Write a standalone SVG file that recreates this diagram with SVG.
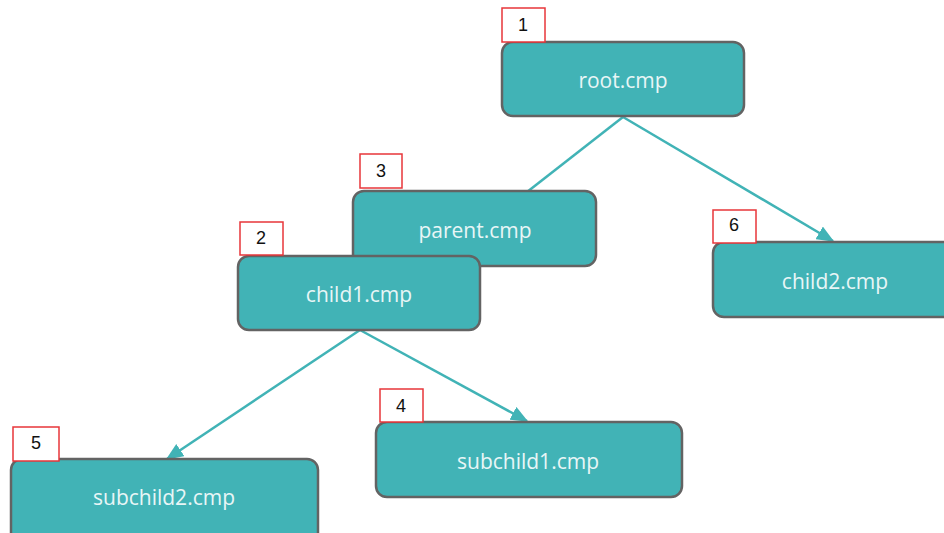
<svg xmlns="http://www.w3.org/2000/svg" width="944" height="533" viewBox="0 0 944 533">
<style>
.node{fill:#41b3b6;stroke:#636363;stroke-width:2.5}
.lbl{fill:#fff;stroke:#e8363a;stroke-width:1.5}
.t{font-family:"Open Sans","Noto Sans",sans-serif;font-size:21px;fill:#e8f6f6;text-anchor:middle;dominant-baseline:central}
.n{font-family:"Liberation Sans",Arial,sans-serif;font-size:18px;fill:#111;text-anchor:middle;dominant-baseline:central}
.c{stroke:#41b3b6;stroke-width:2.5;fill:none}
</style>
<defs>
<marker id="ah" viewBox="0 0 12 10" refX="11" refY="5" markerWidth="7" markerHeight="6" markerUnits="strokeWidth" orient="auto">
<path d="M0,0 L12,5 L0,10 z" fill="#41b3b6"/>
</marker>
</defs>
<rect width="944" height="533" fill="#fff"/>
<g id="connectors">
<line class="c" x1="623" y1="117" x2="527" y2="192"/>
<line class="c" x1="623" y1="117" x2="833" y2="241" marker-end="url(#ah)"/>
<line class="c" x1="360" y1="330" x2="167" y2="459" marker-end="url(#ah)"/>
<line class="c" x1="360" y1="330" x2="527" y2="421" marker-end="url(#ah)"/>
</g>
<g id="root">
<rect class="node" x="502" y="42" width="242" height="74" rx="11"/>
<text class="t" x="623" y="80">root.cmp</text>
<rect class="lbl" x="502" y="8" width="43" height="34"/>
<text class="n" x="523" y="25">1</text>
</g>
<g id="parent">
<rect class="node" x="353" y="191" width="243" height="75" rx="11"/>
<text class="t" x="475" y="230">parent.cmp</text>
<rect class="lbl" x="360" y="154" width="42" height="34"/>
<text class="n" x="381" y="171">3</text>
</g>
<g id="child1">
<rect class="node" x="238" y="256" width="242" height="74" rx="11"/>
<text class="t" x="359" y="294">child1.cmp</text>
<rect class="lbl" x="240" y="222" width="43" height="33"/>
<text class="n" x="261" y="238">2</text>
</g>
<g id="child2">
<rect class="node" x="713" y="242" width="250" height="75" rx="11"/>
<text class="t" x="835" y="281">child2.cmp</text>
<rect class="lbl" x="713" y="210" width="43" height="33"/>
<text class="n" x="734" y="225">6</text>
</g>
<g id="subchild1">
<rect class="node" x="376" y="422" width="306" height="75" rx="11"/>
<text class="t" x="528" y="461">subchild1.cmp</text>
<rect class="lbl" x="380" y="389" width="43" height="33"/>
<text class="n" x="401" y="406">4</text>
</g>
<g id="subchild2">
<rect class="node" x="11" y="459" width="307" height="85" rx="11"/>
<text class="t" x="164" y="497">subchild2.cmp</text>
<rect class="lbl" x="13" y="427" width="46" height="34"/>
<text class="n" x="36" y="443">5</text>
</g>
</svg>
